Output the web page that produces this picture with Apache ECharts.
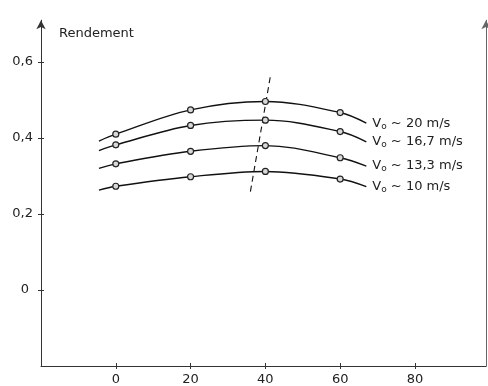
<!DOCTYPE html>
<html>
<head>
<meta charset="utf-8">
<script src="https://cdn.jsdelivr.net/npm/echarts@6/dist/echarts.min.js"></script>
<style>html,body{margin:0;padding:0;background:#fff}#c{width:488px;height:386px}</style>
</head>
<body>
<div id="c"></div>
<script>
// Data
const xValues = [-4.5, 0, 20, 40, 60, 67];
const markerX = [0, 20, 40, 60];
const v20  = [0.392, 0.410, 0.474, 0.496, 0.467, 0.439];
const v167 = [0.367, 0.382, 0.433, 0.447, 0.417, 0.390];
const v133 = [0.320, 0.332, 0.365, 0.380, 0.348, 0.326];
const v10  = [0.263, 0.273, 0.298, 0.312, 0.292, 0.272];
const speedLabels = ['20 m/s', '16,7 m/s', '13,3 m/s', '10 m/s'];
const dashX = [36.0, 41.4];
const dashY = [0.259, 0.566];
const yTicks = [0, 0.2, 0.4, 0.6];
const yTickLabels = ['0', '0,2', '0,4', '0,6'];
const xTicks = [0, 20, 40, 60, 80];
const xTickLabels = ['0', '20', '40', '60', '80'];
const yName = 'Rendement';

const FONT = 'DejaVu Sans';
const INK = '#222';

function buildData(vals) {
  return xValues.map((x, i) => {
    const d = { value: [x, vals[i]] };
    if (markerX.indexOf(x) < 0) d.symbol = 'none';
    return d;
  });
}

function curve(vals, label) {
  return {
    type: 'line',
    data: buildData(vals),
    smooth: 0.35,
    symbol: 'circle',
    symbolSize: 6,
    showAllSymbol: true,
    lineStyle: { color: '#111', width: 1.4 },
    itemStyle: { color: '#d8d8d8', borderColor: '#222', borderWidth: 1.2 },
    endLabel: {
      show: true,
      distance: 6,
      formatter: () => '{v|V}{s|o}{t| ~ ' + label + '}',
      rich: {
        v: { fontFamily: FONT, fontSize: 13, color: INK },
        s: { fontFamily: FONT, fontSize: 9, color: INK, padding: [6, 0, 0, 0] },
        t: { fontFamily: FONT, fontSize: 13, color: INK }
      }
    },
    z: 3
  };
}

const yLabelFmt = (v) => {
  const i = yTicks.findIndex(t => Math.abs(t - v) < 1e-6);
  if (i < 0) return '';
  return i === 0 ? '{z|' + yTickLabels[i] + '}' : yTickLabels[i];
};
const xLabelFmt = (v) => {
  const i = xTicks.findIndex(t => Math.abs(t - v) < 1e-6);
  return i < 0 ? '' : xTickLabels[i];
};

const chart = echarts.init(document.getElementById('c'), null, { renderer: 'canvas' });
const yBase = { type: 'value', min: -0.2, max: 0.71, interval: 0.2, splitLine: { show: false } };
const xBase = { type: 'value', min: -20, max: 99, interval: 20, splitLine: { show: false } };

chart.setOption({
  animation: false,
  backgroundColor: '#fff',
  title: {
    text: yName, left: 54, top: 22,
    textStyle: { fontFamily: FONT, fontSize: 13, fontWeight: 'normal', color: INK }
  },
  grid: { left: 41, right: 2, top: 20.2, bottom: 20 },
  xAxis: [
    Object.assign({}, xBase, {
      position: 'bottom',
      axisLine: { show: true, onZero: false, lineStyle: { color: '#333', width: 1 } },
      axisTick: { show: true, length: 3, customValues: xTicks, lineStyle: { color: '#333' } },
      axisLabel: { margin: 7, fontFamily: FONT, fontSize: 13, color: INK,
        customValues: xTicks, formatter: xLabelFmt }
    }),
    Object.assign({}, xBase, {
      position: 'bottom',
      axisLine: { show: false, onZero: false },
      axisTick: { show: true, inside: true, length: 3, customValues: xTicks, lineStyle: { color: '#333' } },
      axisLabel: { show: false }
    })
  ],
  yAxis: [
    Object.assign({}, yBase, {
      position: 'left',
      axisLine: { show: true, onZero: false, symbol: ['none', 'arrow'], symbolSize: [7, 9], lineStyle: { color: '#333', width: 1 } },
      axisTick: { show: true, length: 3, customValues: yTicks, lineStyle: { color: '#333' } },
      axisLabel: { margin: 8, fontFamily: FONT, fontSize: 13, color: INK,
        customValues: yTicks, formatter: yLabelFmt,
        rich: { z: { fontFamily: FONT, fontSize: 13, color: INK, padding: [0, 4, 0, 0] } } }
    }),
    Object.assign({}, yBase, {
      position: 'left',
      axisLine: { show: false, onZero: false },
      axisTick: { show: true, inside: true, length: 3, customValues: yTicks, lineStyle: { color: '#333' } },
      axisLabel: { show: false }
    }),
    Object.assign({}, yBase, {
      position: 'right',
      axisLine: { show: true, onZero: false, symbol: ['none', 'arrow'], symbolSize: [7, 9], lineStyle: { color: '#666', width: 1 } },
      axisTick: { show: false },
      axisLabel: { show: false }
    })
  ],
  series: [
    curve(v20, speedLabels[0]),
    curve(v167, speedLabels[1]),
    curve(v133, speedLabels[2]),
    curve(v10, speedLabels[3]),
    {
      type: 'line',
      data: dashX.map((x, i) => [x, dashY[i]]),
      symbol: 'none',
      lineStyle: { color: '#111', width: 1.1, type: [6, 4] },
      z: 2
    }
  ]
});
</script>
</body>
</html>
